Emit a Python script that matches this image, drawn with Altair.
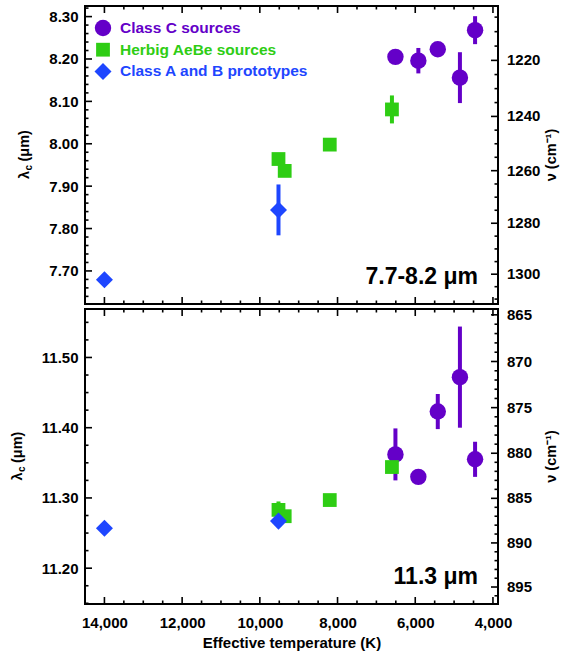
import altair as alt
import pandas as pd

# ---------------- data ----------------
CLASSES = ["Class C sources", "Herbig AeBe sources", "Class A and B prototypes"]

C_TEMP = [6510, 5920, 5420, 4850, 4460]
C_LAM_77 = [8.205, 8.196, 8.223, 8.156, 8.268]
C_ERR_77 = [0.0, 0.030, 0.0, 0.060, 0.033]
C_LAM_113 = [11.362, 11.330, 11.423, 11.472, 11.355]
C_ERR_113 = [0.037, 0.0, 0.025, 0.072, 0.025]

H_TEMP = [9520, 9360, 8200, 6600]
H_LAM_77 = [7.964, 7.936, 7.998, 8.081]
H_ERR_77 = [0.0, 0.0, 0.0, 0.033]
H_LAM_113 = [11.283, 11.274, 11.297, 11.344]
H_ERR_113 = [0.012, 0.0, 0.0, 0.0]

A_TEMP = [14000, 9520]
A_LAM_77 = [7.679, 7.844]
A_ERR_77 = [0.0, 0.060]
A_LAM_113 = [11.257, 11.267]
A_ERR_113 = [0.0, 0.0]

# axis tick values / labels
X_MAJOR = [14000, 12000, 10000, 8000, 6000, 4000]
X_MINOR = [13500, 13000, 12500, 11500, 11000, 10500, 9500, 9000, 8500,
           7500, 7000, 6500, 5500, 5000, 4500]
TOP_Y_MAJOR = [7.70, 7.80, 7.90, 8.00, 8.10, 8.20, 8.30]
BOT_Y_MAJOR = [11.20, 11.30, 11.40, 11.50]
TOP_NU_MAJOR = [1220, 1240, 1260, 1280, 1300]
BOT_NU_MAJOR = [865, 870, 875, 880, 885, 890, 895]
PANEL_LABELS = ["7.7-8.2 \u03bcm", "11.3 \u03bcm"]

# ---------------- styling ----------------
COLORS = ["#6400C8", "#2ECD14", "#1E46FF"]
SHAPES = ["circle", "square", "diamond"]
SIZES = [270, 190, 290]
FONT = "Liberation Sans"
LBL = 15
W = 413
X_DOMAIN = [3870, 14500]


def steps(lo, hi, step, exclude):
    n = int(round((hi - lo) / step))
    vals = [round(lo + i * step, 4) for i in range(n + 1)]
    return [v for v in vals if all(abs(v - e) > 1e-6 for e in exclude)]


TOP_Y_MINOR = steps(7.64, 8.32, 0.02, TOP_Y_MAJOR)
BOT_Y_MINOR = steps(11.15, 11.55, 0.025, BOT_Y_MAJOR)
TOP_NU_MINOR = steps(1205, 1310, 5, TOP_NU_MAJOR)
BOT_NU_MINOR = steps(865, 896, 1, BOT_NU_MAJOR)


def panel(series, ydom, ymajor, yminor, numajor, numinor, label, height,
          bottom, legend, ltitle_x):
    xs = alt.Scale(domain=X_DOMAIN, reverse=True, nice=False, zero=False)
    ys = alt.Scale(domain=ydom, nice=False, zero=False)
    if bottom:
        xaxis = alt.Axis(values=X_MAJOR, format=",d", ticks=False, domain=False,
                         grid=False, labelFontSize=LBL, labelFontWeight="bold",
                         labelFont=FONT, labelColor="black", labelPadding=11,
                         labelFlush=False, labelOverlap=False,
                         title="Effective temperature (K)", titleFont=FONT,
                         titleFontSize=15, titleFontWeight="bold",
                         titleColor="black", titlePadding=5)
    else:
        xaxis = None
    yaxis = alt.Axis(values=ymajor, format=".2f", ticks=False, domain=False,
                     grid=False, labelFontSize=LBL, labelFontWeight="bold",
                     labelFont=FONT, labelColor="black", labelPadding=7,
                     title=None)

    def X(field):
        return alt.X(field, scale=xs, axis=xaxis)

    def Y(field):
        return alt.Y(field, scale=ys, axis=yaxis)

    layers = []
    for (temps, lams, errs), color, shape, size in zip(series, COLORS, SHAPES, SIZES):
        df = pd.DataFrame({"T": temps, "lam": lams, "err": errs})
        df["lo"] = df["lam"] - df["err"]
        df["hi"] = df["lam"] + df["err"]
        eb = df[df["err"] > 0]
        if len(eb):
            layers.append(
                alt.Chart(eb).mark_rule(color=color, strokeWidth=4).encode(
                    x=X("T:Q"), y=Y("lo:Q"), y2="hi:Q",
                )
            )
        layers.append(
            alt.Chart(df).mark_point(filled=True, opacity=1, shape=shape,
                                     size=size, color=color).encode(
                x=X("T:Q"), y=Y("lam:Q"),
            )
        )

    # inward tick marks on all four sides
    def rule(vals, side, length, calc=False):
        d = pd.DataFrame({"v0": vals})
        ch = alt.Chart(d)
        if calc:
            ch = ch.transform_calculate(v="10000 / datum.v0")
        else:
            ch = ch.transform_calculate(v="datum.v0")
        ch = ch.mark_rule(color="black", strokeWidth=1.6)
        if side == "left":
            return ch.encode(y=Y("v:Q"), x=alt.value(0), x2=alt.value(length))
        if side == "right":
            return ch.encode(y=Y("v:Q"), x=alt.value(W), x2=alt.value(W - length))
        if side == "top":
            return ch.encode(x=X("v:Q"), y=alt.value(0), y2=alt.value(length))
        return ch.encode(x=X("v:Q"), y=alt.value(height),
                         y2=alt.value(height - length))

    MAJ, MIN = 7, 3.5
    layers += [
        rule(ymajor, "left", MAJ), rule(yminor, "left", MIN),
        rule(numajor, "right", MAJ, True), rule(numinor, "right", MIN, True),
        rule(X_MAJOR, "top", MAJ), rule(X_MINOR, "top", MIN),
        rule(X_MAJOR, "bottom", MAJ), rule(X_MINOR, "bottom", MIN),
    ]

    # right-hand wavenumber labels
    layers.append(
        alt.Chart(pd.DataFrame({"nu": numajor}))
        .transform_calculate(v="10000 / datum.nu")
        .mark_text(align="left", baseline="middle", font=FONT, fontSize=LBL,
                   fontWeight="bold", color="black")
        .encode(x=alt.value(W + 9), y=Y("v:Q"),
                text=alt.Text("nu:Q", format="d"))
    )

    # panel label
    layers.append(
        alt.Chart(pd.DataFrame({"t": [label]}))
        .mark_text(align="right", baseline="alphabetic", font=FONT,
                   fontSize=23, fontWeight="bold", color="black")
        .encode(x=alt.value(W - 20), y=alt.value(height - 20), text="t:N")
    )

    # left axis title: lambda_c (um), right axis title: nu (cm^-1)
    cy = height / 2.0
    ys0 = cy + 24
    layers += [
        alt.Chart(pd.DataFrame({"t": ["\u03bb"]})).mark_text(
            align="left", baseline="middle", angle=270, font=FONT, fontSize=14.5,
            fontWeight="bold", color="black").encode(
            x=alt.value(ltitle_x), y=alt.value(ys0), text="t:N"),
        alt.Chart(pd.DataFrame({"t": ["c"]})).mark_text(
            align="left", baseline="middle", angle=270, font=FONT, fontSize=10,
            fontWeight="bold", color="black").encode(
            x=alt.value(ltitle_x + 4), y=alt.value(ys0 - 8.5), text="t:N"),
        alt.Chart(pd.DataFrame({"t": ["(\u03bcm)"]})).mark_text(
            align="left", baseline="middle", angle=270, font=FONT, fontSize=14.5,
            fontWeight="bold", color="black").encode(
            x=alt.value(ltitle_x), y=alt.value(ys0 - 17.5), text="t:N"),
        alt.Chart(pd.DataFrame({"t": ["\u03bd (cm\u207b\u00b9)"]})).mark_text(
            align="center", baseline="middle", angle=270, font=FONT, fontSize=14.5,
            fontWeight="bold", color="black").encode(
            x=alt.value(W + 54), y=alt.value(cy), text="t:N"),
    ]

    # manual legend
    if legend:
        for i, (cls, color, shape, size) in enumerate(zip(CLASSES, COLORS, SHAPES, SIZES)):
            ld = pd.DataFrame({"t": [cls]})
            layers.append(
                alt.Chart(ld).mark_point(filled=True, opacity=1, shape=shape,
                                         size=size, color=color)
                .encode(x=alt.value(18), y=alt.value(22 + 21.7 * i))
            )
            layers.append(
                alt.Chart(ld).mark_text(align="left", baseline="middle", font=FONT,
                                        fontSize=15.5, fontWeight="bold", color=color)
                .encode(x=alt.value(35), y=alt.value(22 + 21.7 * i), text="t:N")
            )

    return alt.layer(*layers).properties(width=W, height=height)


top = panel(
    [(C_TEMP, C_LAM_77, C_ERR_77), (H_TEMP, H_LAM_77, H_ERR_77), (A_TEMP, A_LAM_77, A_ERR_77)],
    [7.622, 8.325], TOP_Y_MAJOR, TOP_Y_MINOR, TOP_NU_MAJOR, TOP_NU_MINOR,
    PANEL_LABELS[0], 298, bottom=False, legend=True, ltitle_x=-60,
)
bot = panel(
    [(C_TEMP, C_LAM_113, C_ERR_113), (H_TEMP, H_LAM_113, H_ERR_113), (A_TEMP, A_LAM_113, A_ERR_113)],
    [11.149, 11.569], BOT_Y_MAJOR, BOT_Y_MINOR, BOT_NU_MAJOR, BOT_NU_MINOR,
    PANEL_LABELS[1], 295, bottom=True, legend=False, ltitle_x=-67,
)

chart = (
    alt.vconcat(top, bot, spacing=0)
    .properties(padding={"left": 9, "top": 4, "right": 0, "bottom": 0},
                background="white")
    .configure_view(stroke="black", strokeWidth=2)
)

chart.save("out.html", embed_options={"renderer": "svg", "actions": False})
